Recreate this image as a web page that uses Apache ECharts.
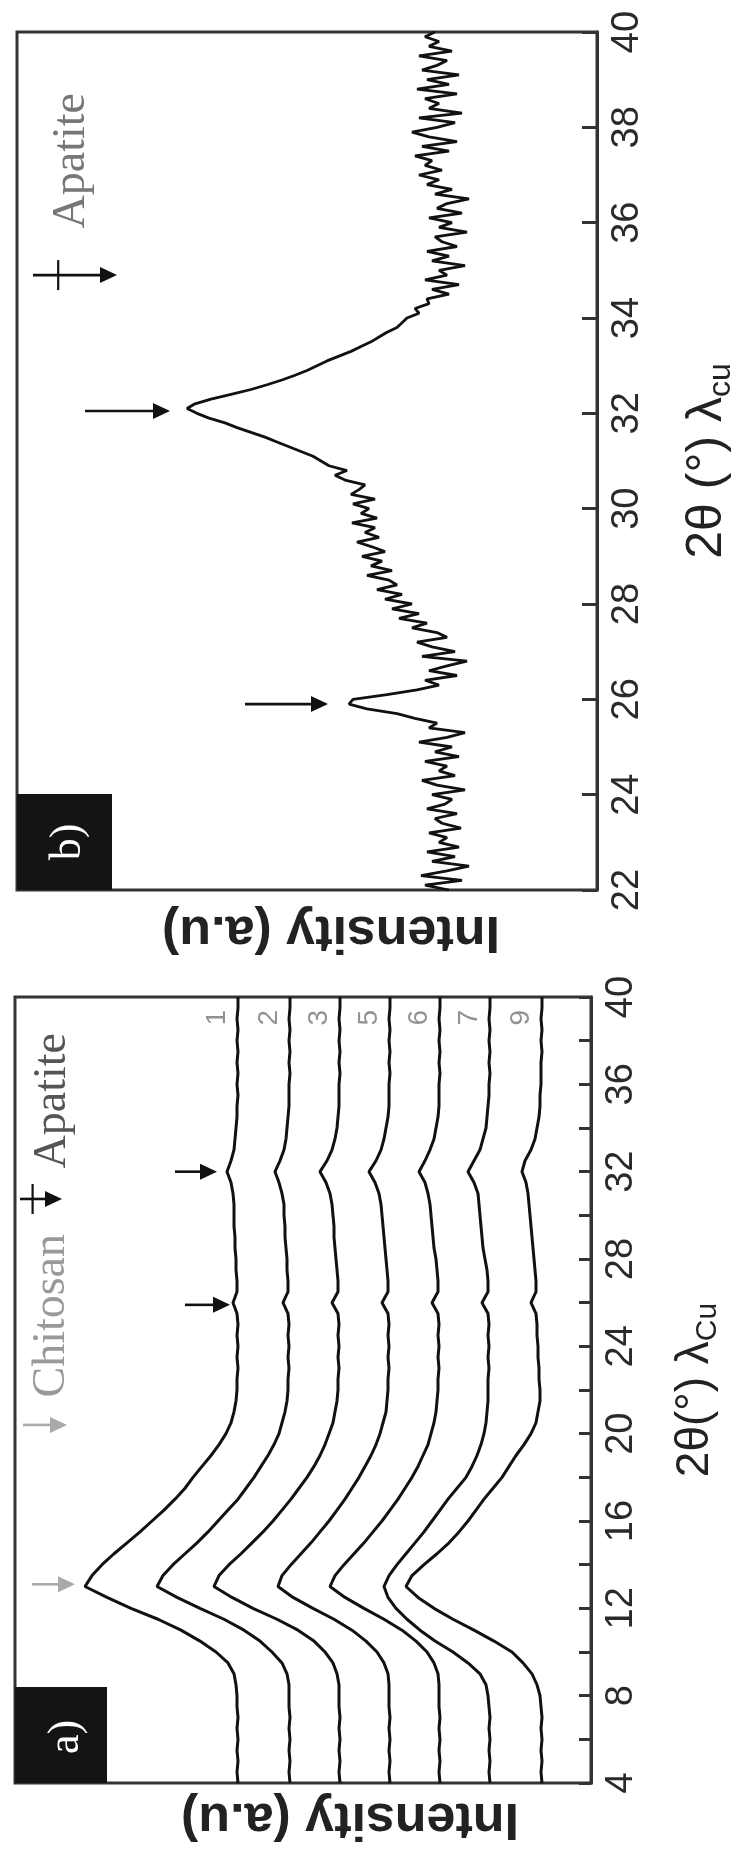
<!DOCTYPE html>
<html><head><meta charset="utf-8">
<script src="https://cdn.jsdelivr.net/npm/echarts@6/dist/echarts.min.js"></script>
<style>html,body{margin:0;padding:0;background:#fff}#c{width:745px;height:1859px}</style>
</head><body><div id="c"></div>
<script>
// ---------- Panel a: 2theta sampling and intensity curves (a.u.) ----------
const thetaA = [4,4.5,5,5.5,6,6.5,7,7.5,8,8.5,9,9.5,10,10.5,11,11.5,12,12.5,13,13.5,14,14.5,15,15.5,16,16.5,17,17.5,18,18.5,19,19.5,20,20.5,21,21.5,22,22.5,23,23.5,24,24.5,25,25.5,26,26.5,27,27.5,28,28.5,29,29.5,30,30.5,31,31.5,32,32.5,33,33.5,34,34.5,35,35.5,36,36.5,37,37.5,38,38.5,39,39.5,40];
const curve1 = [353,354,353,354,353,354,353,354,354,355,357,363,375,391,410,433,460,484,506,499,489,477,464,451,439,427,416,406,398,389,380,372,365,360,357,355,354,354,353,354,353,354,353,354,358,354,354,355,355,356,356,357,357,357,358,360,364,360,357,356,355,354,354,353,354,353,354,353,354,353,354,353,353];
const curve2 = [301,302,301,302,301,302,301,302,302,302,304,309,319,331,347,367,391,414,434,428,418,406,394,383,373,363,353,345,337,330,323,317,312,309,306,304,303,303,302,303,302,303,302,303,308,303,303,304,304,305,306,306,307,307,309,312,316,311,307,305,304,303,302,302,302,301,302,301,302,301,302,301,301];
const curve3 = [251,252,251,252,251,252,251,252,252,252,254,258,266,277,293,314,338,359,377,372,362,350,339,328,318,309,300,292,284,277,271,266,262,258,256,254,253,253,252,253,252,253,252,253,259,253,253,254,255,256,257,257,258,259,261,265,271,264,259,256,254,253,252,252,252,251,252,251,252,251,252,251,251];
const curve5 = [201,202,201,202,201,202,201,202,202,202,203,207,214,225,239,257,278,298,313,309,300,290,280,271,262,254,246,239,232,226,220,215,211,208,205,204,203,203,202,203,202,203,202,203,209,203,203,204,205,206,207,208,209,210,212,216,222,215,210,207,205,203,202,202,202,201,202,201,202,201,202,201,201];
const curve6 = [151,152,151,152,151,152,151,152,152,152,153,157,164,175,189,207,227,246,261,256,247,237,227,218,209,201,193,186,179,173,168,163,160,157,155,154,153,153,152,153,152,153,152,153,159,153,153,154,155,157,158,159,160,161,163,166,172,166,161,157,155,153,152,152,152,151,152,151,152,151,152,151,151];
const curve7 = [101,102,101,102,101,102,101,102,103,105,111,123,138,156,171,184,195,203,207,202,194,185,176,167,159,151,143,134,125,119,114,110,107,105,104,103,103,103,102,103,102,103,102,103,109,103,103,104,106,108,109,110,111,112,113,117,123,117,111,108,105,104,103,102,102,101,102,101,102,101,102,101,101];
const curve9 = [49,50,49,50,49,50,49,50,51,54,59,68,79,97,117,138,157,173,185,179,167,154,142,132,123,115,107,98,89,82,75,67,60,55,53,51,51,52,52,53,53,54,54,55,60,55,55,56,57,58,59,60,61,62,63,65,69,66,60,56,54,52,51,51,50,50,50,49,50,49,50,49,49];
const curvesA = [curve1, curve2, curve3, curve5, curve6, curve7, curve9];
const curveNamesA = ['1','2','3','5','6','7','9'];

// ---------- Panel b ----------
const thetaB = [22.0,22.1,22.2,22.3,22.4,22.5,22.6,22.7,22.8,22.9,23.0,23.1,23.2,23.3,23.4,23.5,23.6,23.7,23.8,23.9,24.0,24.1,24.2,24.3,24.4,24.5,24.6,24.7,24.8,24.9,25.0,25.1,25.2,25.3,25.4,25.5,25.6,25.7,25.8,25.9,26.0,26.1,26.2,26.3,26.4,26.5,26.6,26.7,26.8,26.9,27.0,27.1,27.2,27.3,27.4,27.5,27.6,27.7,27.8,27.9,28.0,28.1,28.2,28.3,28.4,28.5,28.6,28.7,28.8,28.9,29.0,29.1,29.2,29.3,29.4,29.5,29.6,29.7,29.8,29.9,30.0,30.1,30.2,30.3,30.4,30.5,30.6,30.7,30.8,30.9,31.0,31.1,31.2,31.3,31.4,31.5,31.6,31.7,31.8,31.9,32.0,32.1,32.2,32.3,32.4,32.5,32.6,32.7,32.8,32.9,33.0,33.1,33.2,33.3,33.4,33.5,33.6,33.7,33.8,33.9,34.0,34.1,34.2,34.3,34.4,34.5,34.6,34.7,34.8,34.9,35.0,35.1,35.2,35.3,35.4,35.5,35.6,35.7,35.8,35.9,36.0,36.1,36.2,36.3,36.4,36.5,36.6,36.7,36.8,36.9,37.0,37.1,37.2,37.3,37.4,37.5,37.6,37.7,37.8,37.9,38.0,38.1,38.2,38.3,38.4,38.5,38.6,38.7,38.8,38.9,39.0,39.1,39.2,39.3,39.4,39.5,39.6,39.7,39.8,39.9,40.0];
const intensityB = [
148,172,135,176,150,128,165,142,170,138,
158,150,168,136,155,162,140,170,152,145,
165,132,160,175,142,158,150,172,138,162,
145,178,150,132,168,160,182,200,230,248,
244,210,180,158,172,140,168,150,130,175,
142,165,180,150,160,185,170,198,178,205,
185,212,195,220,200,208,230,205,226,215,
235,212,225,240,218,232,222,245,220,236,
228,244,222,246,238,232,252,262,250,268,
276,284,296,308,320,332,346,360,372,388,
400,410,402,386,366,346,330,315,302,290,
280,270,258,246,236,226,218,210,200,195,
190,178,182,168,170,148,165,138,172,150,
158,132,165,148,170,140,155,162,130,158,
145,168,135,160,150,128,162,145,170,158,
178,155,172,165,182,148,175,140,168,185,
160,142,178,135,168,158,172,140,180,148,
170,138,175,160,150,178,145,168,158,172,
162];

const ticksA = {min:4, max:40, step:2, labelEvery:4};
const ticksB = {min:22, max:40, step:2};

// annotation anchors in data units [intensity, 2theta]
const arrowsB = [
  {from:512, to:427, t:32.05, color:'#111'},
  {from:352, to:269, t:25.9, color:'#111'},
  {from:564, to:480, t:34.9, color:'#111', bar:true}
];
const arrowsA = [
  {from:559, to:516, t:13.1, color:'#aaa'},
  {from:416, to:374, t:32.0, color:'#111'},
  {from:406, to:361, t:25.9, color:'#111'},
  {from:568, to:524, t:20.4, color:'#aaa'},
  {from:571, to:529, t:30.75, color:'#111', bar:true}
];
const textsB = [{text:'Apatite', v:525, t:37.3, color:'#777'}];
const textsA = [
  {text:'Chitosan', v:539, t:25.4, color:'#999'},
  {text:'Apatite', v:538, t:35.25, color:'#555'}
];

const chart = echarts.init(document.getElementById('c'), null, {renderer:'canvas'});
const axisCol = '#333';
function yAx(gi, tk, len, labelFn){
  return {
    type:'value', gridIndex:gi, position:'right', min:tk.min, max:tk.max, interval:tk.step,
    axisLine:{show:true, lineStyle:{color:axisCol, width:3}},
    axisTick:{show:true, inside:true, length:len, lineStyle:{color:axisCol, width:3}},
    axisLabel:{show:true, rotate:90, margin:12, color:'#2a2a2a', fontSize:38,
      fontFamily:'"Liberation Sans", Arial, sans-serif', formatter:labelFn},
    splitLine:{show:false}
  };
}
const series = [];
series.push({type:'line', xAxisIndex:0, yAxisIndex:0, showSymbol:false, silent:true,
  data: thetaB.map((t,i)=>[intensityB[i], t]),
  lineStyle:{color:'#111', width:2.8}});
curvesA.forEach((c, k)=>{
  series.push({type:'line', xAxisIndex:1, yAxisIndex:1, showSymbol:false, silent:true,
    data: thetaA.map((t,i)=>[c[i], t]),
    lineStyle:{color:'#111', width:3}});
});
// curve number labels
series.push({type:'scatter', xAxisIndex:1, yAxisIndex:1, symbolSize:0, silent:true,
  data: curvesA.map((c,k)=>({value:[c[c.length-1]+21, 39.05], name:curveNamesA[k]})),
  label:{show:true, formatter:p=>p.name, rotate:90, position:'inside', color:'#777', fontSize:28,
    fontFamily:'"Liberation Sans", Arial, sans-serif'}});

chart.setOption({
  animation:false,
  backgroundColor:'#fff',
  grid:[
    {left:17, top:32, width:580, height:858, show:true, borderColor:axisCol, borderWidth:3},
    {left:15, top:997, width:576, height:786, show:true, borderColor:axisCol, borderWidth:3}
  ],
  xAxis:[
    {type:'value', gridIndex:0, min:0, max:580, inverse:true, show:false},
    {type:'value', gridIndex:1, min:0, max:576, inverse:true, show:false}
  ],
  yAxis:[
    yAx(0, ticksB, 15, v=>String(v)),
    yAx(1, ticksA, 12, v=> (v % ticksA.labelEvery === 0 ? String(v) : ''))
  ],
  series
});

function px(gi, v, t){ return chart.convertToPixel({gridIndex:gi}, [v, t]); }
const g = [];
function addArrow(gi, a){
  const p1 = px(gi, a.from, a.t), p2 = px(gi, a.to, a.t);
  const head = 17, hw = 8;
  g.push({type:'line', silent:true, shape:{x1:p1[0], y1:p1[1], x2:p2[0]-head+2, y2:p2[1]},
    style:{stroke:a.color, lineWidth:2.6}});
  g.push({type:'polygon', silent:true, shape:{points:[[p2[0],p2[1]],[p2[0]-head,p2[1]-hw],[p2[0]-head,p2[1]+hw]]},
    style:{fill:a.color}});
  if (a.bar){
    const bx = p1[0] + (p2[0]-p1[0])*0.3;
    g.push({type:'line', silent:true, shape:{x1:bx, y1:p1[1]-15, x2:bx, y2:p1[1]+15},
      style:{stroke:a.color, lineWidth:2.2}});
  }
}
arrowsB.forEach(a=>addArrow(0,a));
arrowsA.forEach(a=>addArrow(1,a));
function addText(gi, o, font){
  const p = px(gi, o.v, o.t);
  g.push({type:'text', silent:true, x:p[0], y:p[1], rotation:Math.PI/2,
    style:{text:o.text, fill:o.color, font:font, align:'center', verticalAlign:'middle'}});
}
const serif = '46px "Liberation Serif", "Times New Roman", serif';
textsB.forEach(o=>addText(0,o,serif));
textsA.forEach(o=>addText(1,o,serif));

// panel tags
g.push({type:'rect', silent:true, shape:{x:17, y:794, width:95, height:96}, style:{fill:'#141414'}});
g.push({type:'text', silent:true, x:68, y:842, rotation:Math.PI/2,
  style:{text:'b)', fill:'#fff', font:'44px "Liberation Serif", serif', align:'center', verticalAlign:'middle'}});
g.push({type:'rect', silent:true, shape:{x:15, y:1687, width:92, height:96}, style:{fill:'#141414'}});
g.push({type:'text', silent:true, x:66, y:1737, rotation:Math.PI/2,
  style:{text:'a)', fill:'#fff', font:'44px "Liberation Serif", serif', align:'center', verticalAlign:'middle'}});

// axis titles
const sans = '"Liberation Sans", Arial, sans-serif';
g.push({type:'text', silent:true, x:331, y:931, rotation:Math.PI,
  style:{text:'Intensity (a.u)', fill:'#222', font:'bold 52px '+sans, align:'center', verticalAlign:'middle'}});
g.push({type:'text', silent:true, x:350, y:1818, rotation:Math.PI,
  style:{text:'Intensity (a.u)', fill:'#222', font:'bold 52px '+sans, align:'center', verticalAlign:'middle'}});
g.push({type:'text', silent:true, x:707, y:461, rotation:Math.PI/2,
  style:{text:'{a|2θ (°) λ}{b|cu}', align:'center', verticalAlign:'middle',
    rich:{a:{fontSize:50, fontFamily:sans, fill:'#222', lineHeight:60},
          b:{fontSize:32, fontFamily:sans, fill:'#222', lineHeight:60, verticalAlign:'bottom'}}}});
g.push({type:'text', silent:true, x:695, y:1390, rotation:Math.PI/2,
  style:{text:'{a|2θ(°) λ}{b|Cu}', align:'center', verticalAlign:'middle',
    rich:{a:{fontSize:46, fontFamily:sans, fill:'#222', lineHeight:56},
          b:{fontSize:30, fontFamily:sans, fill:'#222', lineHeight:56, verticalAlign:'bottom'}}}});

chart.setOption({graphic:{elements:g}});
</script>
</body></html>
